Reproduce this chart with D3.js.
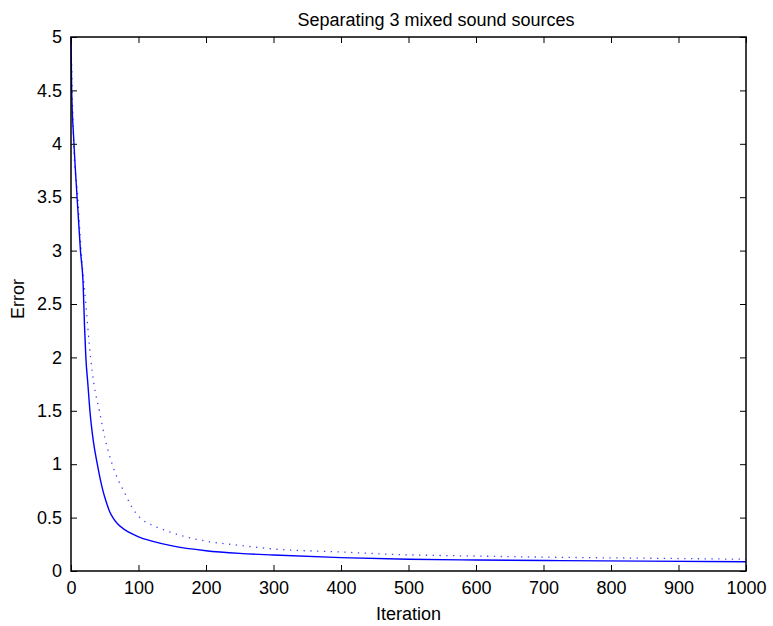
<!DOCTYPE html>
<html>
  <head>
    <title>Separating 3 mixed sound sources</title>
    <style>
    body {
        margin: 0px;
        overflow: hidden;
        background: white;
    }

    svg {
        display: block;
    }

    text {
        font-family: 'Liberation Sans', Arial, sans-serif;
    }

    .tick text {
        font-size: 18px;
        fill: black;
    }

    .tick line {
        stroke: black;
    }

    .axis-label {
        font-size: 18px;
        fill: black;
    }
    </style>
    <script src="https://d3js.org/d3.v7.min.js"></script>
  </head>
  <body>

    <svg width="773" height="626"></svg>

    <script>
        // values
        const solidIter = [0, 1, 4, 9, 14, 18, 20, 22, 25, 28, 33, 39, 43, 47, 52, 57, 63, 70, 80, 90, 100, 120, 150, 200, 250, 300, 400, 500, 600, 725, 850, 1000];
        const solidErr  = [5.0, 4.5, 4.05, 3.5, 3.0, 2.68, 2.3, 2.0, 1.75, 1.5, 1.22, 1.0, 0.87, 0.76, 0.65, 0.56, 0.49, 0.435, 0.385, 0.35, 0.32, 0.28, 0.235, 0.19, 0.165, 0.15, 0.125, 0.11, 0.103, 0.097, 0.092, 0.087];

        const dotIter = [0, 4, 10, 15, 22, 29, 34, 42, 50, 61, 70, 78, 90, 102, 120, 140, 170, 200, 250, 300, 400, 475, 600, 725, 850, 1000];
        const dotErr  = [5.0, 4.0, 3.5, 3.0, 2.5, 2.0, 1.75, 1.5, 1.25, 1.0, 0.85, 0.75, 0.6, 0.5, 0.43, 0.38, 0.32, 0.28, 0.24, 0.206, 0.178, 0.156, 0.14, 0.128, 0.12, 0.11];

        const xTicks = [0, 100, 200, 300, 400, 500, 600, 700, 800, 900, 1000];
        const yTicks = [0, 0.5, 1, 1.5, 2, 2.5, 3, 3.5, 4, 4.5, 5];

        const titleText = 'Separating 3 mixed sound sources';
        const xAxisLabel = 'Iteration';
        const yAxisLabel = 'Error';

        const svg = d3.select('svg');

        const margin = { top: 37, right: 27, bottom: 55, left: 71 };
        const innerWidth = +svg.attr('width') - margin.left - margin.right;
        const innerHeight = +svg.attr('height') - margin.top - margin.bottom;

        const xScale = d3.scaleLinear()
            .domain([0, 1000])
            .range([0, innerWidth]);

        const yScale = d3.scaleLinear()
            .domain([0, 5])
            .range([innerHeight, 0]);

        const g = svg.append('g')
            .attr('transform', `translate(${margin.left},${margin.top})`);

        // lines
        const line = d3.line()
            .x(d => xScale(d[0]))
            .y(d => yScale(d[1]))
            .curve(d3.curveMonotoneX);

        const solid = solidIter.map((d, i) => [d, solidErr[i]]);
        const dotted = dotIter.map((d, i) => [d, dotErr[i]]);

        g.append('path')
            .datum(dotted)
            .attr('fill', 'none')
            .attr('stroke', '#0000ff')
            .attr('stroke-opacity', 0.75)
            .attr('stroke-width', 1.3)
            .attr('stroke-dasharray', '1.3,5.5')
            .attr('d', line);

        g.append('path')
            .datum(solid)
            .attr('fill', 'none')
            .attr('stroke', '#0000ff')
            .attr('stroke-width', 1.4)
            .attr('d', line);

        // axes, ticks point inward like matlab
        const xAxis = d3.axisBottom(xScale).tickValues(xTicks).tickSize(-6).tickPadding(10)
            .tickFormat(d3.format('d'));
        const yAxis = d3.axisLeft(yScale).tickValues(yTicks).tickSize(-6).tickPadding(9)
            .tickFormat(d3.format('~g'));

        const xAxisG = g.append('g')
            .attr('transform', `translate(0,${innerHeight})`)
            .call(xAxis);
        xAxisG.select('.domain').remove();

        const yAxisG = g.append('g').call(yAxis);
        yAxisG.select('.domain').remove();

        // top and right ticks, no labels
        const topG = g.append('g')
            .call(d3.axisTop(xScale).tickValues(xTicks).tickSize(-6));
        topG.select('.domain').remove();
        topG.selectAll('text').remove();
        const rightG = g.append('g')
            .attr('transform', `translate(${innerWidth},0)`)
            .call(d3.axisRight(yScale).tickValues(yTicks).tickSize(-6));
        rightG.select('.domain').remove();
        rightG.selectAll('text').remove();

        // box
        g.append('rect')
            .attr('width', innerWidth)
            .attr('height', innerHeight)
            .attr('fill', 'none')
            .attr('stroke', 'black')
            .attr('stroke-width', 1.5);

        // labels
        svg.append('text')
            .attr('class', 'axis-label')
            .attr('x', 436)
            .attr('y', 26)
            .attr('text-anchor', 'middle')
            .text(titleText);

        svg.append('text')
            .attr('class', 'axis-label')
            .attr('x', margin.left + innerWidth / 2)
            .attr('y', 620)
            .attr('text-anchor', 'middle')
            .text(xAxisLabel);

        svg.append('text')
            .attr('class', 'axis-label')
            .attr('transform', `translate(24,299) rotate(-90)`)
            .attr('text-anchor', 'middle')
            .text(yAxisLabel);
    </script>
  </body>
</html>
